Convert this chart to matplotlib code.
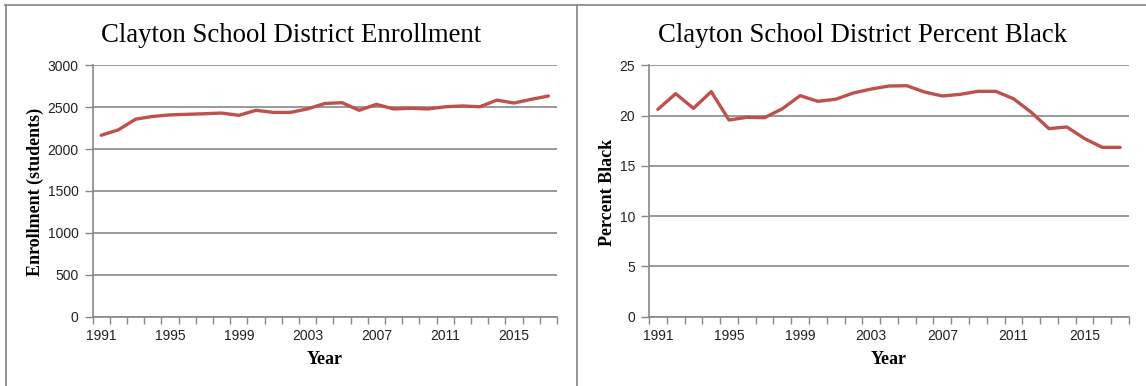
import matplotlib
matplotlib.use("Agg")
import matplotlib.pyplot as plt
from matplotlib.lines import Line2D
from matplotlib.ticker import FixedLocator, NullFormatter

years = list(range(1991, 2018))
enrollment = [2165, 2230, 2357, 2390, 2408, 2415, 2422, 2430, 2403, 2463,
              2438, 2438, 2480, 2544, 2554, 2463, 2534, 2479, 2487, 2479,
              2505, 2515, 2505, 2584, 2550, 2594, 2634]
pct_black = [20.62, 22.18, 20.72, 22.38, 19.56, 19.83, 19.79, 20.68, 21.98, 21.42,
             21.62, 22.25, 22.64, 22.94, 22.97, 22.34, 21.95, 22.11, 22.41, 22.41,
             21.68, 20.33, 18.70, 18.87, 17.71, 16.84, 16.84]

enroll_ticks = [0, 500, 1000, 1500, 2000, 2500, 3000]
pct_ticks = [0, 5, 10, 15, 20, 25]
label_years = [1991, 1995, 1999, 2003, 2007, 2011, 2015]

LINE = "#C0504D"
GRID = "#888888"
SERIF = "Liberation Serif"
SANS = "Liberation Sans"

W, H = 1146, 386
fig = plt.figure(figsize=(W / 100, H / 100), dpi=100)


def px_axes(x0, x1, top, bottom):
    return fig.add_axes([x0 / W, 1 - bottom / H, (x1 - x0) / W, (bottom - top) / H])


def style(ax, values, yticks, ylabel, title, title_x, ylabel_x):
    idx = list(range(len(years)))
    ax.plot(idx, values, color=LINE, lw=2.4, solid_joinstyle="round",
            solid_capstyle="round", zorder=3)
    ax.set_xlim(-0.5, len(years) - 0.5)
    ax.set_ylim(yticks[0], yticks[-1])
    ax.set_yticks(yticks)
    ax.set_yticklabels([str(t) for t in yticks], fontfamily=SANS, fontsize=10,
                       color="#222222")
    ax.yaxis.grid(True, color=GRID, lw=1.2)
    ax.set_axisbelow(True)
    # labels every fourth year, tick marks on category boundaries
    ax.set_xticks([years.index(y) for y in label_years])
    ax.set_xticklabels([str(y) for y in label_years], fontfamily=SANS,
                       fontsize=10, color="#222222")
    ax.tick_params(axis="x", which="major", length=0, pad=9)
    ax.xaxis.set_minor_locator(FixedLocator([i - 0.5 for i in range(len(years) + 1)]))
    ax.xaxis.set_minor_formatter(NullFormatter())
    ax.tick_params(axis="x", which="minor", length=5, width=1, color=GRID,
                   direction="out")
    ax.tick_params(axis="y", length=6, width=1, color=GRID, direction="out", pad=4)
    for s in ("top", "right"):
        ax.spines[s].set_visible(False)
    for s in ("left", "bottom"):
        ax.spines[s].set_color(GRID)
        ax.spines[s].set_linewidth(1.2)
    box = ax.get_position()
    cx = (box.x0 + box.x1) / 2
    fig.text(cx, 1 - 359 / H, "Year", ha="center", va="center",
             fontfamily=SERIF, fontweight="bold", fontsize=13)
    fig.text(ylabel_x / W, 1 - 192 / H, ylabel, ha="center", va="center",
             rotation=90, fontfamily=SERIF, fontweight="bold", fontsize=13)
    fig.text(title_x / W, 1 - 36 / H, title, ha="center", va="center",
             fontfamily=SERIF, fontsize=19.3)


ax1 = px_axes(92.6, 557, 65.3, 316.7)
style(ax1, enrollment, enroll_ticks, "Enrollment (students)",
      "Clayton School District Enrollment", 291, 35)

ax2 = px_axes(649, 1129, 65.3, 316.7)
style(ax2, pct_black, pct_ticks, "Percent Black",
      "Clayton School District Percent Black", 863, 607)

# panel frames
BORDER = "#8c8c8c"
fig.add_artist(Line2D([5 / W, 1], [1 - 4.5 / H] * 2, color=BORDER, lw=1.3,
                      transform=fig.transFigure))
for xp in (5.5, 577):
    fig.add_artist(Line2D([xp / W] * 2, [0, 1 - 4.5 / H], color=BORDER, lw=1.3,
                          transform=fig.transFigure))

fig.savefig("out.png", dpi=100, facecolor="white")
